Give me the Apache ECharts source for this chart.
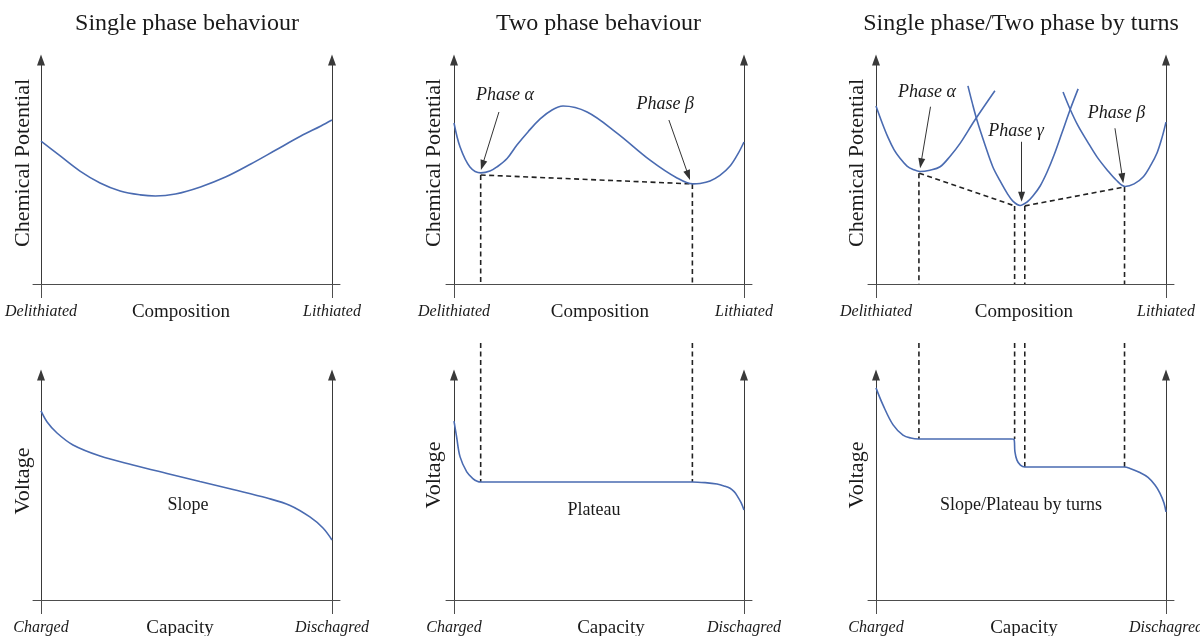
<!DOCTYPE html>
<html>
<head>
<meta charset="utf-8">
<script src="https://cdn.jsdelivr.net/npm/echarts@6/dist/echarts.min.js"></script>
<style>
html,body{margin:0;padding:0;background:#fff;}
#c{width:1200px;height:636px;}
</style>
</head>
<body>
<div id="c"></div>
<script>
// ---------- texts ----------
const titles = ['Single phase behaviour', 'Two phase behaviour', 'Single phase/Two phase by turns'];
const topYName = 'Chemical Potential';
const bottomYName = 'Voltage';
const compLabels = ['Delithiated', 'Composition', 'Lithiated'];
const capLabels = ['Charged', 'Capacity', 'Dischagred'];
const compMid = [48.1, 50.3, 51.0];   // position of middle x label (composition, 0..100)
const capMid = [47.8, 54.1, 51.0];    // position of middle x label (capacity, 0..100)

// ---------- curves (x: 0..100 composition/capacity, y: 0..100 arbitrary) ----------
const singlePhaseMu = [[0,62.4],[6.6,55.9],[13.4,49.3],[20.3,44.1],[27.2,40.6],[34.1,38.9],[39.3,38.4],[46.2,39.3],[54.8,42.4],[63.4,46.7],[72.1,52.4],[80.7,58.5],[89.3,64.6],[96.2,69.0],[100,71.6]];
const twoPhaseMu = [[0,70.3],[2.1,59.8],[5.5,51.1],[9.3,48.5],[12.4,49.3],[14.8,51.1],[18.3,54.8],[21.7,60.7],[25.5,66.4],[29.7,72.1],[33.8,76.0],[37.6,77.7],[45.9,75.1],[56.2,65.9],[67.6,54.1],[76.9,46.3],[82.4,43.7],[84.8,43.9],[88.3,45.0],[91.7,47.4],[95.2,51.5],[97.9,56.8],[100,62.0]];
const turnsMuAlpha = [[0,77.7],[2.07,70.5],[4.14,64.0],[6.2,58.7],[8.28,54.9],[10.7,51.5],[12.8,50.0],[15.2,49.1],[18.6,49.7],[22.1,51.2],[25.5,55.7],[29.0,61.4],[34.1,71.6],[41.0,84.4]];
const turnsMuGamma = [[31.7,86.5],[33.1,79.5],[34.8,71.6],[37.6,60.7],[40.3,51.1],[42.8,45.0],[45.2,39.7],[47.2,36.2],[49.7,34.3],[52.1,35.8],[54.1,38.4],[56.6,42.8],[59.0,48.9],[61.4,56.3],[64.1,65.9],[66.9,76.0],[69.7,85.2]];
const turnsMuBeta = [[64.5,83.8],[66.9,76.4],[69.7,69.0],[72.8,62.4],[76.2,55.5],[79.7,49.8],[82.8,45.4],[85.9,42.6],[89.0,43.7],[92.1,46.7],[94.8,52.0],[96.9,57.2],[98.6,63.8],[100,70.7]];
const slopeV = [[0,82.2],[2.1,77.4],[5.5,72.6],[11.0,67.4],[20.3,62.6],[31.6,58.7],[43.3,55.0],[54.6,51.5],[66.0,48.0],[77.7,44.3],[85.6,41.1],[92.4,36.1],[96.9,31.3],[100,26.1]];
const plateauV = [[0,77.8],[0.9,70.9],[2.1,62.2],[4.4,55.7],[6.5,52.8],[8.2,51.5],[9.2,51.3],[30,51.3],[60,51.3],[82.2,51.3],[86.6,51.0],[90.7,50.4],[93.1,49.6],[95.2,48.6],[96.6,47.1],[97.6,45.4],[99.0,42.3],[100,39.1]];
const turnsV = [[0,92.2],[2.4,84.8],[5.9,76.1],[9.3,71.7],[12.0,70.4],[14.7,70.0],[30,70.0],[46.6,70.0],[47.6,69.8],[47.9,64.5],[48.6,60.8],[49.8,58.6],[51.3,57.8],[52.5,57.8],[70,57.8],[85.6,57.8],[87.6,57.2],[91.0,55.4],[93.8,53.3],[96.2,50.0],[97.9,46.5],[99.3,42.2],[100,38.3]];

// ---------- phase boundaries ----------
const twoPhaseTie = [[9.2,47.6],[82.2,43.7]];
const turnsTies = [[[14.9,48.4],[47.8,34.1]], [[51.3,34.1],[85.8,42.4]]];
const twoPhaseBounds = [9.2, 82.2];
const twoPhaseBoundTop = [47.6, 43.7];
const turnsBounds = [14.8, 47.8, 51.3, 85.7];
const turnsBoundTop = [48.4, 34.1, 34.1, 42.4];
const twoPhasePlateau = [51.3, 51.3];
const turnsPlateau = [70.0, 70.0, 57.8, 57.8];
const voltageDashTop = 111.7;

// ---------- annotations ----------
const twoPhaseNoteNames = ['Phase α', 'Phase β'];
const twoPhaseNoteAt = [[17.6,82.5],[72.8,78.6]];
const twoPhaseArrows = [[[15.5,75.1],[9.8,51.9]], [[74.1,71.6],[80.8,47.5]]];
const turnsNoteNames = ['Phase α', 'Phase γ', 'Phase β'];
const turnsNoteAt = [[17.6,83.8],[48.3,66.8],[82.9,74.7]];
const turnsArrows = [[[18.8,77.4],[15.5,52.7]], [[50.2,62.1],[50.2,38.1]], [[82.4,68.0],[85.0,46.2]]];
const voltageNotes = ['Slope', 'Plateau', 'Slope/Plateau by turns'];
const voltageNoteAt = [[50.5,41.3],[48.3,39.1],[50.0,41.3]];

// ---------- style / layout ----------
const FONT = '"Liberation Serif", "Times New Roman", serif';
const CURVE = '#4a6bb1';
const AX = '#4d4d4d';
const DASH = '#222222';
const TXT = '#1a1a1a';
const YMAX = 97.8;
const colAxisPx = [[41,332],[454,744],[876,1166]];
const rows = [{top:60, height:224}, {top:375, height:225}];

const grids = [], xAxes = [], yAxes = [], series = [], graphics = [];

for (let r = 0; r < 2; r++) {
  for (let c = 0; c < 3; c++) {
    const gi = r * 3 + c;
    const L = colAxisPx[c][0], R = colAxisPx[c][1];
    const ext = 8 / ((R - L) / 100);
    grids.push({left: L - 8, width: R - L + 16, top: rows[r].top, height: rows[r].height,
      containLabel: false, outerBoundsMode: 'none'});
    const labels = r === 0 ? compLabels : capLabels;
    const mid = r === 0 ? compMid[c] : capMid[c];
    xAxes.push({
      gridIndex: gi, type: 'value', min: -ext, max: 100 + ext, position: 'bottom',
      axisLine: {show: true, onZero: false, lineStyle: {color: AX, width: 1}},
      axisTick: {show: true, customValues: [0, 100], length: 14, inside: false, lineStyle: {color: AX, width: 1}},
      axisLabel: {
        show: true, customValues: [0, mid, 100], margin: 17, hideOverlap: false,
        formatter: function (v) {
          if (v === 0) return '{it|' + labels[0] + '}';
          if (v === 100) return '{it|' + labels[2] + '}';
          return '{nm|' + labels[1] + '}';
        },
        rich: {
          it: {fontFamily: FONT, fontStyle: 'italic', fontSize: 16, color: TXT, lineHeight: 22},
          nm: {fontFamily: FONT, fontSize: 19, color: TXT, lineHeight: 22}
        }
      },
      splitLine: {show: false}
    });
    ['left', 'right'].forEach(function (pos) {
      yAxes.push({
        gridIndex: gi, type: 'value', min: 0, max: YMAX, position: pos, offset: -8,
        axisLine: {show: true, onZero: false, symbol: ['none', 'triangle'], symbolSize: [8, 11], lineStyle: {color: '#3a3a3a', width: 1}},
        axisTick: {show: false}, axisLabel: {show: false}, splitLine: {show: false}
      });
    });
  }
}

function curve(gi, data) {
  return {type: 'line', xAxisIndex: gi, yAxisIndex: 2 * gi, data: data, symbol: 'none', showSymbol: false,
    smooth: 0.35, lineStyle: {color: CURVE, width: 1.6}, silent: true, z: 3};
}
function dashed(gi, data, extra) {
  return Object.assign({type: 'line', xAxisIndex: gi, yAxisIndex: 2 * gi, data: data, symbol: 'none', showSymbol: false,
    clip: false, lineStyle: {color: DASH, width: 1.6, type: [5, 3.5]}, silent: true, z: 2}, extra || {});
}
function arrows(list) {
  return {
    silent: true, symbol: ['none', 'triangle'], symbolSize: [7, 10], animation: false,
    label: {show: false}, lineStyle: {color: '#333', width: 1, type: 'solid'},
    data: list.map(function (a) { return [{coord: a[0]}, {coord: a[1]}]; })
  };
}
function notes(gi, names, at, size, italic) {
  return {type: 'scatter', xAxisIndex: gi, yAxisIndex: 2 * gi, symbolSize: 1, silent: true, z: 5,
    itemStyle: {color: 'rgba(0,0,0,0)', opacity: 1},
    label: {show: true, position: 'inside', formatter: '{b}', fontFamily: FONT, fontSize: size,
      fontStyle: italic ? 'italic' : 'normal', color: TXT, opacity: 1},
    data: names.map(function (n, i) { return {name: n, value: at[i]}; })};
}

// top row
series.push(curve(0, singlePhaseMu));
series.push(curve(1, twoPhaseMu));
series.push(dashed(1, twoPhaseTie, {markLine: arrows(twoPhaseArrows)}));
twoPhaseBounds.forEach(function (x, i) { series.push(dashed(1, [[x, twoPhaseBoundTop[i]], [x, 0]])); });
series.push(notes(1, twoPhaseNoteNames, twoPhaseNoteAt, 18, true));
series.push(curve(2, turnsMuAlpha));
series.push(curve(2, turnsMuGamma));
series.push(curve(2, turnsMuBeta));
turnsTies.forEach(function (t, i) { series.push(dashed(2, t, i === 0 ? {markLine: arrows(turnsArrows)} : {})); });
turnsBounds.forEach(function (x, i) { series.push(dashed(2, [[x, turnsBoundTop[i]], [x, 0]])); });
series.push(notes(2, turnsNoteNames, turnsNoteAt, 18, true));

// bottom row
series.push(curve(3, slopeV));
series.push(curve(4, plateauV));
series.push(curve(5, turnsV));
twoPhaseBounds.forEach(function (x, i) { series.push(dashed(4, [[x, voltageDashTop], [x, twoPhasePlateau[i]]])); });
turnsBounds.forEach(function (x, i) { series.push(dashed(5, [[x, voltageDashTop], [x, turnsPlateau[i]]])); });
for (let c = 0; c < 3; c++) series.push(notes(3 + c, [voltageNotes[c]], [voltageNoteAt[c]], 18, false));

// titles and y-axis names
const titleX = [187, 598.5, 1021];
const yNameX = [23, 434, 857];
const yNameYTop = [163, 163, 163];
const yNameYBottom = [481, 475, 475];
for (let c = 0; c < 3; c++) {
  graphics.push({type: 'text', x: titleX[c], y: 24, silent: true,
    style: {text: titles[c], fontFamily: FONT, fontSize: 24, fill: TXT, align: 'center', verticalAlign: 'middle'}});
  graphics.push({type: 'text', x: yNameX[c], y: yNameYTop[c], rotation: Math.PI / 2, silent: true,
    style: {text: topYName, fontFamily: FONT, fontSize: 22, fill: TXT, align: 'center', verticalAlign: 'middle'}});
  graphics.push({type: 'text', x: yNameX[c], y: yNameYBottom[c], rotation: Math.PI / 2, silent: true,
    style: {text: bottomYName, fontFamily: FONT, fontSize: 22, fill: TXT, align: 'center', verticalAlign: 'middle'}});
}

const chart = echarts.init(document.getElementById('c'), null, {renderer: 'canvas'});
chart.setOption({
  animation: false,
  backgroundColor: '#ffffff',
  grid: grids, xAxis: xAxes, yAxis: yAxes, series: series, graphic: graphics
});
</script>
</body>
</html>
